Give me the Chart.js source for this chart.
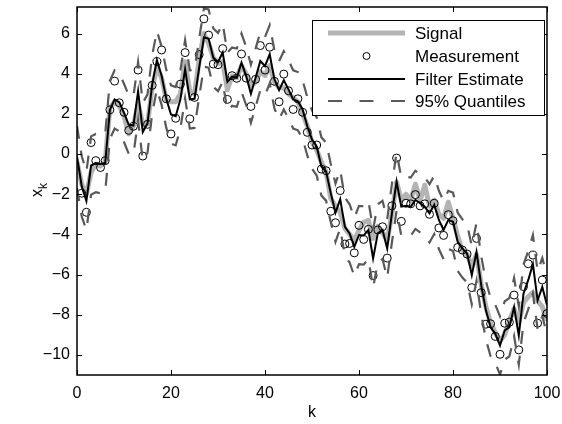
<!DOCTYPE html>
<html>
<head>
<meta charset="utf-8">
<script src="https://cdn.jsdelivr.net/npm/chart.js@4.4.1/dist/chart.umd.min.js"></script>
<style>
  html, body { margin: 0; padding: 0; background: #fff; }
  #wrap { width: 562px; height: 424px; }
</style>
</head>
<body>
<div id="wrap"><canvas id="chart" width="562" height="424"></canvas></div>
<script>
// Kalman filter demo: true signal, noisy measurements, estimate and its 95% band

const signal = [
  -0.4, -1.5, -2.0, -0.9, -0.5, -0.6, -0.4, 2.3, 2.6, 2.4,
  1.9, 1.0, 1.4, 2.5, 1.5, 1.5, 3.3, 4.3, 3.8, 2.7,
  2.6, 2.6, 3.0, 4.6, 3.1, 3.0, 4.7, 6.0, 5.5, 4.8,
  4.5, 4.6, 3.2, 3.9, 3.8, 4.4, 4.0, 3.4, 3.6, 4.1,
  3.9, 4.4, 3.6, 3.3, 3.3, 3.0, 2.8, 2.6, 2.0, 1.4,
  0.6, 0.2, -0.4, -0.9, -2.2, -2.6, -2.9, -3.7, -4.0, -4.3,
  -3.8, -3.4, -3.3, -4.2, -3.6, -3.9, -4.3, -3.0, -1.4, -2.3,
  -2.0, -2.3, -1.5, -2.3, -1.55, -2.6, -2.3, -3.0, -3.2, -2.4,
  -3.2, -4.1, -4.8, -5.0, -5.6, -5.0, -6.5, -7.6, -8.4, -8.9,
  -9.3, -9.0, -8.3, -7.7, -8.4, -7.4, -7.1, -6.9, -7.3, -7.6,
  -8.3
];

const measurement = [
  null, -1.95, -2.9, 0.57, -0.33, -0.67, -0.33, 2.2, 3.63, 2.55,
  2.08, 1.18, 1.38, 4.18, -0.1, 1.48, 3.42, 4.6, 5.18, 2.75,
  1.0, 1.78, 3.48, 5.05, 1.75, 2.82, 4.95, 6.73, 5.92, 4.48,
  4.45, 5.25, 2.72, 3.9, 3.77, 4.98, 3.78, 2.37, 3.72, 5.4,
  4.18, 5.32, 3.62, 2.6, 3.98, 3.15, 2.22, 2.75, 2.08, 1.08,
  0.45, 0.45, -0.75, -0.83, -2.85, -3.42, -1.82, -4.48, -4.45, -4.92,
  -3.55, -4.25, -3.75, -6.05, -3.78, -3.62, -5.18, -2.58, -0.2, -3.35,
  -2.45, -2.48, -2.02, -2.58, -2.48, -3.0, -2.45, -3.68, -4.05, -3.02,
  -3.32, -4.65, -4.78, -4.98, -6.65, -4.2, -6.9, -8.47, -8.45, -9.08,
  -9.97, -8.42, -8.37, -7.02, -9.75, -6.6, -5.46, -5.03, -8.42, -6.27,
  -7.94
];

const estimate = [
  -0.12, -1.6, -2.33, -0.57, -0.45, -0.5, -0.45, 2.2, 2.72, 2.58,
  2.05, 1.47, 1.42, 3.13, 1.1, 1.52, 3.47, 4.68, 3.9, 2.75,
  1.97, 1.88, 2.72, 4.22, 2.72, 2.75, 4.3, 5.8, 5.75, 4.8,
  4.58, 5.05, 3.6, 3.85, 3.8, 4.55, 3.88, 3.0, 3.8, 4.63,
  4.38, 4.97, 3.72, 3.18, 3.67, 3.22, 2.72, 2.63, 2.22, 1.38,
  0.72, 0.38, -0.62, -0.87, -1.95, -2.92, -2.25, -3.62, -3.95, -4.62,
  -4.03, -4.05, -3.78, -5.2, -3.95, -3.78, -4.7, -2.95, -1.37, -2.62,
  -2.58, -2.62, -2.28, -2.45, -2.62, -2.95, -2.53, -3.28, -3.78, -3.28,
  -3.37, -4.37, -4.7, -4.95, -6.03, -4.87, -6.53, -7.78, -8.62, -8.95,
  -9.53, -8.78, -8.62, -7.62, -9.03, -6.95, -6.28, -5.48, -7.28, -6.62,
  -7.53
];

const upperQ = [
  1.4, -0.1, -0.88, 0.88, 1.0, 0.95, 1.0, 3.65, 4.17, 4.03,
  3.5, 2.92, 2.87, 4.58, 2.55, 2.97, 4.92, 6.13, 5.35, 4.2,
  3.42, 3.33, 4.17, 5.67, 4.17, 4.2, 5.75, 7.25, 7.2, 6.25,
  6.03, 6.5, 5.05, 5.3, 5.25, 6.0, 5.33, 4.45, 5.25, 6.08,
  5.83, 6.42, 5.17, 4.63, 5.12, 4.67, 4.17, 4.08, 3.67, 2.83,
  2.17, 1.83, 0.83, 0.58, -0.5, -1.47, -0.8, -2.17, -2.5, -3.17,
  -2.58, -2.6, -2.33, -3.75, -2.5, -2.33, -3.25, -1.5, 0.08, -1.17,
  -1.13, -1.17, -0.83, -1.0, -1.17, -1.5, -1.08, -1.83, -2.33, -1.83,
  -1.92, -2.92, -3.25, -3.5, -4.58, -3.42, -5.08, -6.33, -7.17, -7.5,
  -8.08, -7.33, -7.17, -6.17, -7.58, -5.5, -4.83, -4.03, -5.83, -5.17,
  -6.08
];

const lowerQ = [
  -1.7, -3.1, -3.78, -2.02, -1.9, -1.95, -1.9, 0.75, 1.27, 1.13,
  0.6, 0.02, -0.03, 1.68, -0.35, 0.07, 2.02, 3.23, 2.45, 1.3,
  0.52, 0.43, 1.27, 2.77, 1.27, 1.3, 2.85, 4.35, 4.3, 3.35,
  3.13, 3.6, 2.15, 2.4, 2.35, 3.1, 2.43, 1.55, 2.35, 3.18,
  2.93, 3.52, 2.27, 1.73, 2.22, 1.77, 1.27, 1.18, 0.77, -0.07,
  -0.73, -1.07, -2.07, -2.32, -3.4, -4.37, -3.7, -5.07, -5.4, -6.07,
  -5.48, -5.5, -5.23, -6.65, -5.4, -5.23, -6.15, -4.4, -2.82, -4.07,
  -4.03, -4.07, -3.73, -3.9, -4.07, -4.4, -3.98, -4.73, -5.23, -4.73,
  -4.82, -5.82, -6.15, -6.4, -7.48, -6.32, -7.98, -9.23, -10.07, -10.4,
  -10.98, -10.23, -10.07, -9.07, -10.48, -8.4, -7.73, -6.93, -8.73, -8.07,
  -8.98
];

const xTicks = [0, 20, 40, 60, 80, 100];
const yTicks = [-10, -8, -6, -4, -2, 0, 2, 4, 6];
const legendLabels = ['Signal', 'Measurement', 'Filter Estimate', '95% Quantiles'];

const FONT = '"Liberation Sans", Arial, Helvetica, sans-serif';
const GRAY = '#b4b4b4';
const DARK = '#595959';
const DASH = [13, 12];

const toPoints = (arr) => arr.map((y, k) => ({ x: k, y }));

// matlab-ish box, inward ticks, axis titles and legend
const framePlugin = {
  id: 'frame',
  afterDraw(chart) {
    const { ctx, chartArea: a, scales } = chart;
    ctx.save();

    // tick marks pointing into the plot on all four sides
    ctx.strokeStyle = '#000';
    ctx.lineWidth = 1;
    ctx.beginPath();
    xTicks.forEach((v) => {
      const px = Math.round(scales.x.getPixelForValue(v)) + 0.5;
      ctx.moveTo(px, a.bottom);
      ctx.lineTo(px, a.bottom - 5);
      ctx.moveTo(px, a.top);
      ctx.lineTo(px, a.top + 5);
    });
    yTicks.forEach((v) => {
      const py = Math.round(scales.y.getPixelForValue(v)) + 0.5;
      ctx.moveTo(a.left, py);
      ctx.lineTo(a.left + 5, py);
      ctx.moveTo(a.right, py);
      ctx.lineTo(a.right - 5, py);
    });
    ctx.stroke();

    ctx.lineWidth = 1.5;
    ctx.strokeRect(a.left, a.top, a.right - a.left, a.bottom - a.top);

    // axis titles
    ctx.fillStyle = '#000';
    ctx.font = '16px ' + FONT;
    ctx.textAlign = 'center';
    ctx.textBaseline = 'middle';
    ctx.fillText('k', (a.left + a.right) / 2, 413);

    ctx.save();
    ctx.translate(42, 197);
    ctx.rotate(-Math.PI / 2);
    ctx.textAlign = 'left';
    ctx.textBaseline = 'alphabetic';
    ctx.fillText('x', 0, 0);
    ctx.font = '12px ' + FONT;
    ctx.fillText('k', 8, 5);
    ctx.restore();

    // legend box
    const lx = 312, ly = 20, lw = 232, lh = 95;
    ctx.fillStyle = '#fff';
    ctx.fillRect(lx, ly, lw, lh);
    ctx.lineWidth = 1;
    ctx.strokeStyle = '#000';
    ctx.strokeRect(lx + 0.5, ly + 0.5, lw, lh);

    const x0 = 328, x1 = 405;
    const rows = [33, 56, 79, 101];

    ctx.lineCap = 'butt';
    ctx.strokeStyle = GRAY;
    ctx.lineWidth = 5;
    ctx.beginPath();
    ctx.moveTo(x0, rows[0]);
    ctx.lineTo(x1, rows[0]);
    ctx.stroke();

    ctx.strokeStyle = '#000';
    ctx.lineWidth = 1;
    ctx.beginPath();
    ctx.arc((x0 + x1) / 2, rows[1], 3.5, 0, Math.PI * 2);
    ctx.stroke();

    ctx.lineWidth = 2;
    ctx.beginPath();
    ctx.moveTo(x0, rows[2]);
    ctx.lineTo(x1, rows[2]);
    ctx.stroke();

    ctx.strokeStyle = DARK;
    ctx.lineWidth = 2.2;
    ctx.setLineDash([14, 17.5]);
    ctx.beginPath();
    ctx.moveTo(x0, rows[3]);
    ctx.lineTo(x1, rows[3]);
    ctx.stroke();
    ctx.setLineDash([]);

    ctx.fillStyle = '#000';
    ctx.font = '17px ' + FONT;
    ctx.textAlign = 'left';
    ctx.textBaseline = 'middle';
    legendLabels.forEach((t, i) => ctx.fillText(t, 415, rows[i] + 1));

    ctx.restore();
  },
};

const ctx = document.getElementById('chart').getContext('2d');
new Chart(ctx, {
  type: 'line',
  data: {
    datasets: [
      {
        label: legendLabels[3],
        data: toPoints(upperQ),
        borderColor: DARK,
        borderWidth: 2.2,
        borderDash: DASH,
        pointRadius: 0,
        order: 1,
      },
      {
        label: legendLabels[3],
        data: toPoints(lowerQ),
        borderColor: DARK,
        borderWidth: 2.2,
        borderDash: DASH,
        pointRadius: 0,
        order: 1,
      },
      {
        label: legendLabels[1],
        data: toPoints(measurement),
        showLine: false,
        pointRadius: 4,
        pointBorderWidth: 1,
        pointBorderColor: '#000',
        pointBackgroundColor: 'rgba(0,0,0,0)',
        order: 2,
      },
      {
        label: legendLabels[2],
        data: toPoints(estimate),
        borderColor: '#000',
        borderWidth: 2,
        pointRadius: 0,
        order: 3,
      },
      {
        label: legendLabels[0],
        data: toPoints(signal),
        borderColor: GRAY,
        borderWidth: 5,
        pointRadius: 0,
        borderJoinStyle: 'round',
        order: 4,
      },
    ],
  },
  options: {
    responsive: false,
    animation: false,
    devicePixelRatio: 1,
    layout: { padding: { top: 7, right: 15, left: 0, bottom: 0 } },
    plugins: {
      legend: { display: false },
      tooltip: { enabled: false },
    },
    elements: { line: { tension: 0 } },
    scales: {
      x: {
        type: 'linear',
        min: 0,
        max: 100,
        afterBuildTicks: (s) => { s.ticks = xTicks.map((v) => ({ value: v })); },
        afterFit: (s) => {
          s.height = 49;
          s.paddingLeft = 0;
          s.paddingRight = 0;
        },
        grid: { display: false, drawTicks: false },
        border: { display: false },
        ticks: {
          color: '#000',
          padding: 9,
          maxRotation: 0,
          font: { family: FONT, size: 16 },
        },
      },
      y: {
        min: -11,
        max: 7.32,
        afterBuildTicks: (s) => { s.ticks = yTicks.map((v) => ({ value: v })); },
        afterFit: (s) => {
          s.width = 77;
          s.paddingTop = 0;
          s.paddingBottom = 0;
        },
        grid: { display: false, drawTicks: false },
        border: { display: false },
        ticks: {
          color: '#000',
          padding: 7,
          font: { family: FONT, size: 16 },
          callback: (v) => String(v).replace('-', '\u2212'),
        },
      },
    },
  },
  plugins: [framePlugin],
});
</script>
</body>
</html>
